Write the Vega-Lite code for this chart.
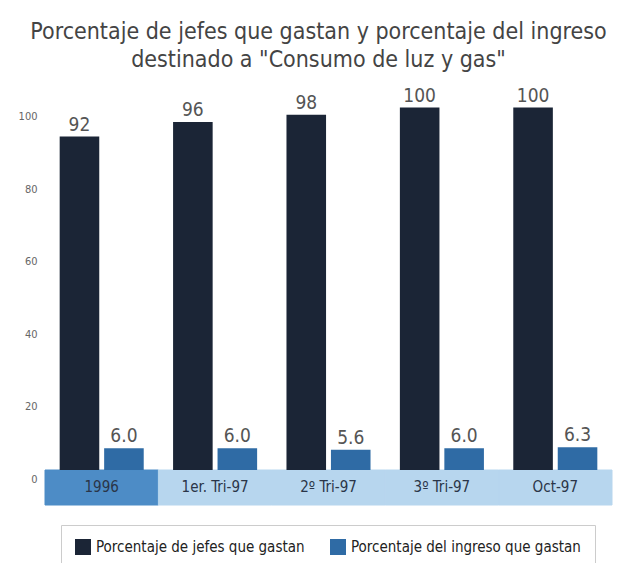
{
  "$schema": "https://vega.github.io/schema/vega-lite/v6.json",
  "width": 567,
  "height": 410,
  "autosize": {"type": "none"},
  "padding": {"left": 45, "top": 95, "right": 22, "bottom": 58},
  "background": "white",
  "title": {
    "text": ["Porcentaje de jefes que gastan y porcentaje del ingreso", "destinado a \"Consumo de luz y gas\""],
    "font": "Liberation Sans Narrow, DejaVu Sans Condensed, sans-serif",
    "fontSize": 23,
    "fontWeight": "normal",
    "color": "#444444",
    "anchor": "middle",
    "frame": "group",
    "dx": -10,
    "offset": 15,
    "lineHeight": 28
  },
  "config": {"view": {"stroke": null}},
  "datasets": {
    "bars": [
      {"cat": "1996", "serie": "Porcentaje de jefes que gastan", "valor": 92, "etiqueta": "92"},
      {"cat": "1996", "serie": "Porcentaje del ingreso que gastan", "valor": 6.0, "etiqueta": "6.0"},
      {"cat": "1er. Tri-97", "serie": "Porcentaje de jefes que gastan", "valor": 96, "etiqueta": "96"},
      {"cat": "1er. Tri-97", "serie": "Porcentaje del ingreso que gastan", "valor": 6.0, "etiqueta": "6.0"},
      {"cat": "2º Tri-97", "serie": "Porcentaje de jefes que gastan", "valor": 98, "etiqueta": "98"},
      {"cat": "2º Tri-97", "serie": "Porcentaje del ingreso que gastan", "valor": 5.6, "etiqueta": "5.6"},
      {"cat": "3º Tri-97", "serie": "Porcentaje de jefes que gastan", "valor": 100, "etiqueta": "100"},
      {"cat": "3º Tri-97", "serie": "Porcentaje del ingreso que gastan", "valor": 6.0, "etiqueta": "6.0"},
      {"cat": "Oct-97", "serie": "Porcentaje de jefes que gastan", "valor": 100, "etiqueta": "100"},
      {"cat": "Oct-97", "serie": "Porcentaje del ingreso que gastan", "valor": 6.3, "etiqueta": "6.3"}
    ],
    "cats": [
      {"cat": "1996"},
      {"cat": "1er. Tri-97"},
      {"cat": "2º Tri-97"},
      {"cat": "3º Tri-97"},
      {"cat": "Oct-97"}
    ]
  },
  "encoding": {
    "x": {
      "field": "cat",
      "type": "nominal",
      "sort": ["1996", "1er. Tri-97", "2º Tri-97", "3º Tri-97", "Oct-97"],
      "scale": {"paddingInner": 0, "paddingOuter": 0},
      "axis": null
    }
  },
  "layer": [
    {
      "data": {"name": "cats"},
      "mark": {"type": "rect", "strokeWidth": 1},
      "encoding": {
        "y": {
          "datum": -9.655,
          "type": "quantitative",
          "scale": {"domain": [-9.655, 103.45], "nice": false, "zero": false},
          "axis": {
            "values": [0, 20, 40, 60, 80, 100],
            "domain": false,
            "ticks": false,
            "grid": false,
            "title": null,
            "labelFont": "Liberation Sans Narrow, DejaVu Sans Condensed, sans-serif",
            "labelFontSize": 11,
            "labelColor": "#666666",
            "labelPadding": 8,
            "labelOffset": 9
          }
        },
        "y2": {"datum": 0},
        "color": {
          "condition": {"test": "datum.cat === '1996'", "value": "#4d8cc6"},
          "value": "#b7d6ee"
        },
        "stroke": {
          "condition": {"test": "datum.cat === '1996'", "value": "#4d8cc6"},
          "value": "#b7d6ee"
        }
      }
    },
    {
      "data": {"name": "bars"},
      "mark": {"type": "bar"},
      "encoding": {
        "xOffset": {
          "field": "serie",
          "type": "nominal",
          "sort": ["Porcentaje de jefes que gastan", "Porcentaje del ingreso que gastan"],
          "scale": {"paddingInner": 0.11, "paddingOuter": 0.33}
        },
        "y": {"field": "valor", "type": "quantitative"},
        "color": {
          "field": "serie",
          "type": "nominal",
          "sort": ["Porcentaje de jefes que gastan", "Porcentaje del ingreso que gastan"],
          "scale": {"range": ["#1b2536", "#2f6ba5"]},
          "legend": {
            "title": null,
            "orient": "none",
            "direction": "horizontal",
            "legendX": 16,
            "legendY": 430,
            "symbolType": "square",
            "symbolSize": 256,
            "symbolStrokeWidth": 0,
            "labelFont": "Liberation Sans Narrow, DejaVu Sans Condensed, sans-serif",
            "labelFontSize": 15,
            "labelColor": "#222222",
            "labelOffset": 5,
            "columnPadding": 25,
            "padding": 14,
            "strokeColor": "#cccccc",
            "labelLimit": 400
          }
        }
      }
    },
    {
      "data": {"name": "bars"},
      "mark": {
        "type": "text",
        "baseline": "bottom",
        "dy": -2,
        "font": "Liberation Sans Narrow, DejaVu Sans Condensed, sans-serif",
        "fontSize": 19,
        "color": "#555555"
      },
      "encoding": {
        "xOffset": {
          "field": "serie",
          "type": "nominal",
          "sort": ["Porcentaje de jefes que gastan", "Porcentaje del ingreso que gastan"]
        },
        "y": {"field": "valor", "type": "quantitative"},
        "text": {"field": "etiqueta"}
      }
    },
    {
      "data": {"name": "cats"},
      "mark": {
        "type": "text",
        "baseline": "middle",
        "font": "Liberation Sans Narrow, DejaVu Sans Condensed, sans-serif",
        "fontSize": 15,
        "color": "#2a3548"
      },
      "encoding": {
        "y": {"datum": -4.8},
        "text": {"field": "cat"}
      }
    }
  ]
}
